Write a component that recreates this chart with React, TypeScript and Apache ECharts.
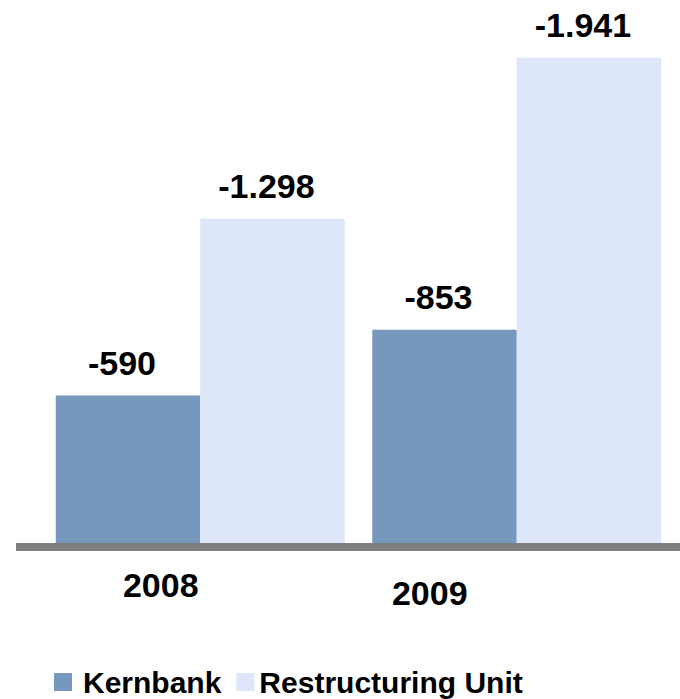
import React, { useEffect, useRef } from "react";
import * as echarts from "echarts";

const years = ["2008", "2009"];
const kernbank = [-590, -853];
const restructuring = [-1298, -1941];
const seriesNames = ["Kernbank", "Restructuring Unit"];

const FONT = "'Liberation Sans', Arial, Helvetica, sans-serif";

function fmt(v: number): string {
  const s = Math.abs(v).toString().replace(/\B(?=(\d{3})+(?!\d))/g, ".");
  return (v < 0 ? "-" : "") + s;
}

export default function App() {
  const ref = useRef<HTMLDivElement>(null);
  useEffect(() => {
    if (!ref.current) return;
    const chart = echarts.init(ref.current, undefined, { renderer: "svg" });
    const label = {
      show: true,
      position: "top",
      distance: 16,
      offset: [-6, 0],
      color: "#000",
      fontSize: 34,
      fontWeight: "bold",
      fontFamily: FONT,
      formatter: (p: any) => fmt(p.value),
    };
    chart.setOption({
      animation: false,
      backgroundColor: "#fff",
      grid: { left: 42, right: 5, top: 43, bottom: 156, containLabel: false },
      xAxis: {
        type: "category",
        data: years,
        axisLine: { show: false },
        axisTick: { show: false },
        axisLabel: {
          margin: 25,
          color: "#000",
          fontSize: 34,
          fontWeight: "bold",
          fontFamily: FONT,
          formatter: (v: string, i: number) => (i === 0 ? `{a|${v}}` : `{b|${v}}`),
          rich: {
            a: { fontSize: 34, fontWeight: "bold", fontFamily: FONT, color: "#000", padding: [0, 79, 0, 0] },
            b: { fontSize: 34, fontWeight: "bold", fontFamily: FONT, color: "#000", padding: [8, 174, 0, 0] },
          },
        },
      },
      yAxis: {
        type: "value",
        inverse: true,
        min: -2000,
        max: 0,
        show: false,
        splitLine: { show: false },
      },
      legend: {
        left: 54,
        top: 667,
        padding: 0,
        itemWidth: 18,
        itemHeight: 18,
        itemGap: 15,
        icon: "rect",
        data: seriesNames,
        textStyle: {
          fontSize: 30,
          fontWeight: "bold",
          fontFamily: FONT,
          color: "#000",
          rich: {
            k: { fontSize: 30, fontWeight: "bold", fontFamily: FONT, color: "#000", padding: [0, 0, 0, 6] },
            r: { fontSize: 30, fontWeight: "bold", fontFamily: FONT, color: "#000" },
          },
        },
        formatter: (n: string) => (n === "Kernbank" ? `{k|${n}}` : `{r|${n}}`),
      },
      series: [
        {
          name: seriesNames[0],
          type: "bar",
          data: kernbank,
          barGap: "0%",
          barCategoryGap: "8.7%",
          itemStyle: { color: "#7698BD" },
          label,
        },
        {
          name: seriesNames[1],
          type: "bar",
          data: restructuring,
          barGap: "0%",
          barCategoryGap: "8.7%",
          itemStyle: { color: "#DEE6FA" },
          label,
        },
      ],
      graphic: [
        {
          type: "line",
          shape: { x1: 16, y1: 547, x2: 680, y2: 547 },
          style: { stroke: "#808080", lineWidth: 8 },
          z: 10,
        },
      ],
    });
    return () => chart.dispose();
  }, []);
  return (
    <div
      ref={ref}
      style={{ position: "absolute", left: 0, top: 0, width: 680, height: 699 }}
    />
  );
}
